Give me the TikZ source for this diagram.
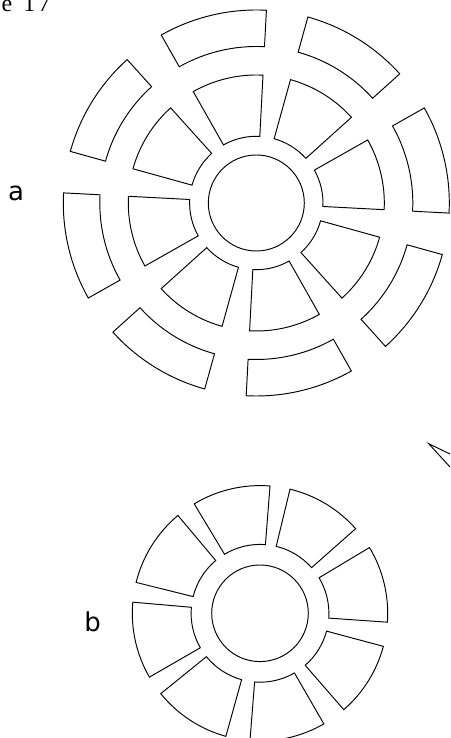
\documentclass[tikz,border=0pt]{standalone}
\usepackage{fontspec}
\setmainfont{Liberation Serif}
\newfontfamily\labelfont{DejaVu Sans}
\tikzset{segment/.style={draw=black,line width=0.95pt,line join=miter,fill=white},
  hub/.style={draw=black,line width=0.95pt,fill=white}}
\newcommand{\ringseg}[5]{% cx cy rin rout a b
  \draw[segment] ($(#1)+(#4:#2pt)$) arc[start angle=#4,end angle=#5,radius=#2pt]
    -- ($(#1)+(#5:#3pt)$) arc[start angle=#5,end angle=#4,radius=#3pt] -- cycle;}
\usetikzlibrary{calc}
\begin{document}
\begin{tikzpicture}[x=1pt,y=1pt]
\useasboundingbox (0,0) rectangle (450,738);
\clip (0,0) rectangle (450,738);
\coordinate (ca) at (256.3,535);
\coordinate (cb) at (260,124.7);
\draw[hub] (ca) circle[radius=48pt];
\draw[hub] (cb) circle[radius=48.3pt];
\foreach \s in {87,42,-3,-48,-93,-138,-183,132}{
  \pgfmathsetmacro{\e}{\s+32.5}
  \ringseg{ca}{66.7}{128}{\s}{\e}
  \ringseg{ca}{156.5}{193}{\s}{\e}
}
\foreach \s/\e in {85.5/121,41.5/76.4,-4/31,-49/-15,-94.5/-60,-141/-105.5,175/210,130/166}{
  \ringseg{cb}{68.9}{127.7}{\s}{\e}
}
\coordinate (tip) at (428.7,294.3);
\coordinate (t1) at (450,284);
\coordinate (t2) at (450,271);
\draw[line width=0.95pt] (t1) -- (tip) -- (t2);
\node[anchor=base west,inner sep=0pt,font=\fontsize{24}{24}\selectfont] (cap) at (1.5,726.5) {e\hspace{11pt}1\hspace{3pt}7};
\node[font=\labelfont\fontsize{26}{26}\selectfont,inner sep=0pt] (la) at (16,545) {a};
\node[font=\labelfont\fontsize{26}{26}\selectfont,inner sep=0pt] (lb) at (92.7,116.3) {b};
\end{tikzpicture}
\end{document}
